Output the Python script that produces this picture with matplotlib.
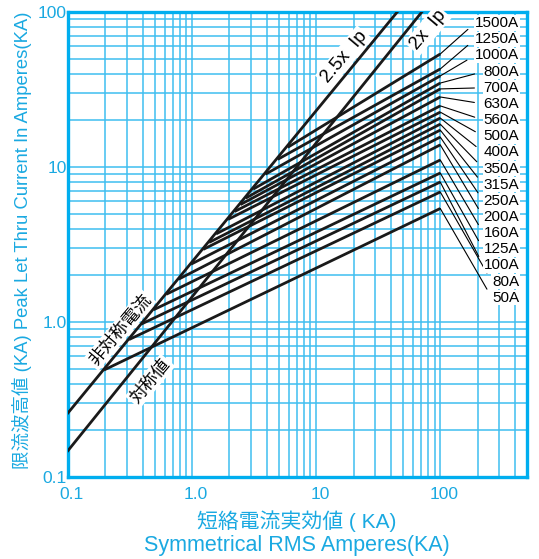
import numpy as np
import matplotlib.pyplot as plt
import matplotlib.ticker as mticker
import matplotlib.transforms as mtransforms

plt.rcParams['font.family'] = ['Liberation Sans', 'Noto Sans CJK JP', 'DejaVu Sans']

# ヒューズ定格 (下から上へ)
ratings = ['50A', '80A', '100A', '125A', '160A', '200A', '250A', '315A', '350A',
           '400A', '500A', '560A', '630A', '700A', '800A', '1000A', '1250A', '1500A']
# 限流開始点 (短絡電流 kA, 波高値 kA)
start_ka = [0.195, 0.31, 0.39, 0.49, 0.62, 0.78, 0.98, 1.23, 1.37,
            1.56, 1.95, 2.2, 2.45, 2.7, 3.1, 3.9, 4.9, 5.9]
start_pk = [0.49, 0.77, 0.97, 1.2, 1.51, 1.89, 2.36, 2.94, 3.26,
            3.7, 4.59, 5.16, 5.72, 6.29, 7.19, 8.98, 11.2, 13.4]
# 100 kA での波高値
end_ka = 100
end_pk = [5.4, 6.9, 8.0, 9.15, 11.1, 13.9, 15.6, 17.3, 18.9,
          20.7, 22.6, 24.8, 28.3, 31.9, 34.8, 38.7, 42.9, 53.6]

# 非対称電流 / 対称値 の直線
asym_ka = [0.1, 45]
asym_pk = [0.259, 100]
sym_ka = [0.1, 71]
sym_pk = [0.148, 100]

blue = '#1aa9e1'
grid_blue = '#3fbef0'

fig = plt.figure(figsize=(5.39, 5.59), dpi=100)
ax = fig.add_axes([68 / 539, 1 - 477 / 559, 459 / 539, 465 / 559])
ax.set_xscale('log')
ax.set_yscale('log')
ax.set_xlim(0.1, 500)
ax.set_ylim(0.1, 100)

ax.xaxis.set_minor_locator(mticker.LogLocator(base=10, subs=np.arange(2, 10)))
ax.yaxis.set_minor_locator(mticker.LogLocator(base=10, subs=np.arange(2, 10)))
ax.xaxis.set_minor_formatter(mticker.NullFormatter())
ax.yaxis.set_minor_formatter(mticker.NullFormatter())
ax.grid(True, which='both', color=grid_blue, linewidth=1.1)
ax.set_axisbelow(True)

ax.set_xticks([0.1, 1, 10, 100])
ax.set_xticklabels(['0.1', '1.0', '10', '100'])
ax.set_yticks([0.1, 1, 10, 100])
ax.set_yticklabels(['0.1', '1.0', '10', '100'])
ax.tick_params(which='both', length=0, colors=blue, labelsize=12.5)
ax.tick_params(axis='x', pad=7)
ax.tick_params(axis='y', pad=1)
shift = mtransforms.ScaledTranslation(4 / 100, 0, fig.dpi_scale_trans)
for lbl in ax.get_xticklabels():
    lbl.set_transform(lbl.get_transform() + shift)

for sp in ax.spines.values():
    sp.set_color('#00aeef')
    sp.set_linewidth(2.4)

# 直線
ax.plot(asym_ka, asym_pk, color='#1a1a1a', linewidth=2.0, zorder=3)
ax.plot(sym_ka, sym_pk, color='#1a1a1a', linewidth=2.0, zorder=3)

# ヒューズ特性線とラベル
n = len(ratings)
for i in range(n):
    ax.plot([start_ka[i], end_ka], [start_pk[i], end_pk[i]],
            color='#1a1a1a', linewidth=2.0, zorder=3, solid_capstyle='butt')
    k = n - 1 - i
    ax.annotate(ratings[i], xy=(end_ka, end_pk[i]), xycoords='data',
                xytext=(0.9826, 0.976 - k * 0.03473), textcoords='axes fraction',
                ha='right', va='center', fontsize=11, color='black', zorder=5,
                bbox=dict(boxstyle='square,pad=0.05', fc='white', ec='none'),
                arrowprops=dict(arrowstyle='-', color='black', linewidth=0.8,
                                shrinkA=6, shrinkB=0, relpos=(0, 0.5)))

# 直線のラベル
lbl_box = dict(boxstyle='square,pad=0.1', fc='white', ec='none')
ax.text(0.601, 0.903, '2.5x  Ip', transform=ax.transAxes, rotation=50,
        ha='center', va='center', fontsize=13.5, bbox=lbl_box, zorder=4)
ax.text(0.784, 0.961, '2x  Ip', transform=ax.transAxes, rotation=50,
        ha='center', va='center', fontsize=13.5, bbox=lbl_box, zorder=4)
ax.text(0.113, 0.316, '非対称電流', transform=ax.transAxes, rotation=50,
        ha='center', va='center', fontsize=12.5, bbox=lbl_box, zorder=4)
ax.text(0.179, 0.206, '対称値', transform=ax.transAxes, rotation=50,
        ha='center', va='center', fontsize=12.5, bbox=lbl_box, zorder=4)

# 軸ラベル
fig.text(297 / 539, 1 - 521 / 559, '短絡電流実効値 ( KA)', ha='center', va='center',
         fontsize=15, color=blue)
fig.text(297 / 539, 1 - 546 / 559, 'Symmetrical RMS Amperes(KA)', ha='center',
         va='center', fontsize=15.5, color=blue)
fig.text(22 / 539, 1 - 240 / 559, '限流波高値 (KA) Peak Let Thru Current In Amperes(KA)',
         ha='center', va='center', rotation=90, fontsize=13.3, color=blue)

plt.savefig('out.png', dpi=100)
